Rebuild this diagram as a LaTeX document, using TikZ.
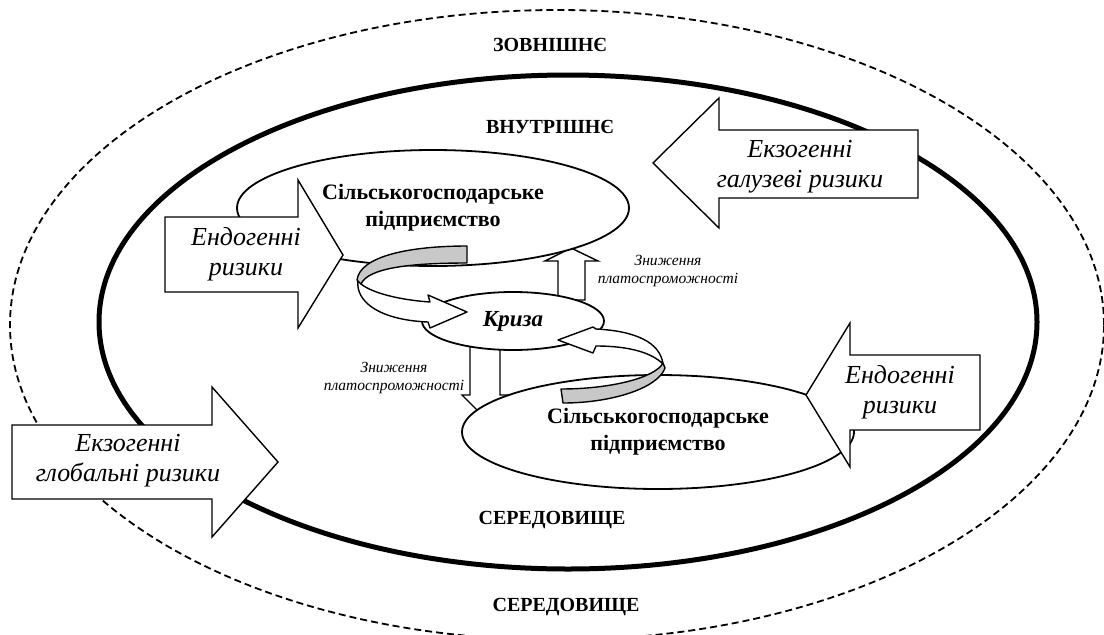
\documentclass[tikz,border=0pt]{standalone}
\usepackage{fontspec}
\setmainfont{Liberation Serif}
\usetikzlibrary{shapes.geometric}
\definecolor{band}{RGB}{200,200,200}
\tikzset{
  blockarrow/.style={draw, fill=white, line width=1.4pt, line join=miter},
  firm/.style={ellipse, draw, fill=white, line width=1.8pt, inner sep=0pt, align=center,
    font=\fontsize{22}{27}\selectfont\bfseries},
  heading/.style={font=\fontsize{20}{22}\selectfont\bfseries},
  risk/.style={align=center, font=\fontsize{26}{30}\selectfont\itshape},
  small/.style={align=center, font=\fontsize{15.5}{18}\selectfont\itshape},
  ribbon/.style={draw, line width=1.4pt, line join=round},
}
\begin{document}
\begin{tikzpicture}[x=1pt,y=-1pt]
\useasboundingbox (0,0) rectangle (1104,635);
% environments
\draw[line width=1.8pt, dash pattern=on 7pt off 4pt] (557,325) ellipse [x radius=547pt, y radius=315pt];
\draw[line width=5pt] (568,322) ellipse [x radius=469pt, y radius=247pt];
\node[heading] (ext1) at (550,45) {ЗОВНІШНЄ};
\node[heading] (int1) at (550,127) {ВНУТРІШНЄ};
\node[heading] (int2) at (552,520) {СЕРЕДОВИЩЕ};
\node[heading] (ext2) at (566,607) {СЕРЕДОВИЩЕ};
% small vertical arrows
\draw[blockarrow] (558,300) -- (558,261) -- (545,261) -- (571,248) -- (598,261) -- (585,261) -- (585,300) -- cycle;
\draw[blockarrow] (470,345) -- (470,395) -- (462,395) -- (487,420) -- (513,395) -- (500,395) -- (500,345) -- cycle;
% firms and crisis
\node[firm, minimum width=392pt, minimum height=116pt] (firm1) at (433,208) {Сільськогосподарське\\підприємство};
\node[firm, minimum width=392pt, minimum height=114pt] (firm2) at (658,432) {Сільськогосподарське\\підприємство};
\node[ellipse, draw, fill=white, line width=1.8pt, inner sep=0pt, minimum width=182pt, minimum height=58pt,
  font=\fontsize{23}{24}\selectfont\bfseries\itshape] (crisis) at (513,321) {Криза};
% upper ribbon arrow
\path[ribbon, fill=white] (358,280) .. controls (355,302) and (380,320) .. (428,322)
  -- (430,328) -- (467,312) -- (428,295) -- (430,302)
  .. controls (400,300) and (372,293) .. (361,284) -- cycle;
\path[ribbon, fill=band] (467,246) .. controls (410,246) and (360,256) .. (357,280)
  -- (361,284) .. controls (368,268) and (410,263) .. (467,263) -- cycle;
% lower ribbon arrow
\path[ribbon, fill=white] (596,329) .. controls (635,331) and (660,342) .. (663,364)
  .. controls (652,353) and (630,346) .. (596,346) -- (593,353) -- (558,340) -- (593,327) -- cycle;
\path[ribbon, fill=band] (663,363) .. controls (655,378) and (610,389) .. (561,389)
  -- (563,403) .. controls (612,403) and (658,388) .. (665,368) -- cycle;
% labels of small arrows
\node[small] (dec1) at (668,271) {Зниження\\платоспроможності};
\node[small] (dec2) at (394,378) {Зниження\\платоспроможності};
% big block arrows
\draw[blockarrow] (165,217) -- (298,217) -- (298,180) -- (343,255) -- (298,328) -- (298,292) -- (165,292) -- cycle;
\node[risk] (endo1) at (246,254) {Ендогенні\\ризики};
\draw[blockarrow] (918,130) -- (719,130) -- (719,98) -- (653,163) -- (719,228) -- (719,198) -- (918,198) -- cycle;
\node[risk] (exo1) at (800,167) {Екзогенні\\галузеві ризики};
\draw[blockarrow] (12,425) -- (212,425) -- (212,387) -- (278,462) -- (212,537) -- (212,499) -- (12,499) -- cycle;
\node[risk] (exo2) at (128,461) {Екзогенні\\глобальні ризики};
\draw[blockarrow] (980,355) -- (850,355) -- (850,323) -- (806,395) -- (850,467) -- (850,430) -- (980,430) -- cycle;
\node[risk] (endo2) at (900,392) {Ендогенні\\ризики};
\end{tikzpicture}
\end{document}
